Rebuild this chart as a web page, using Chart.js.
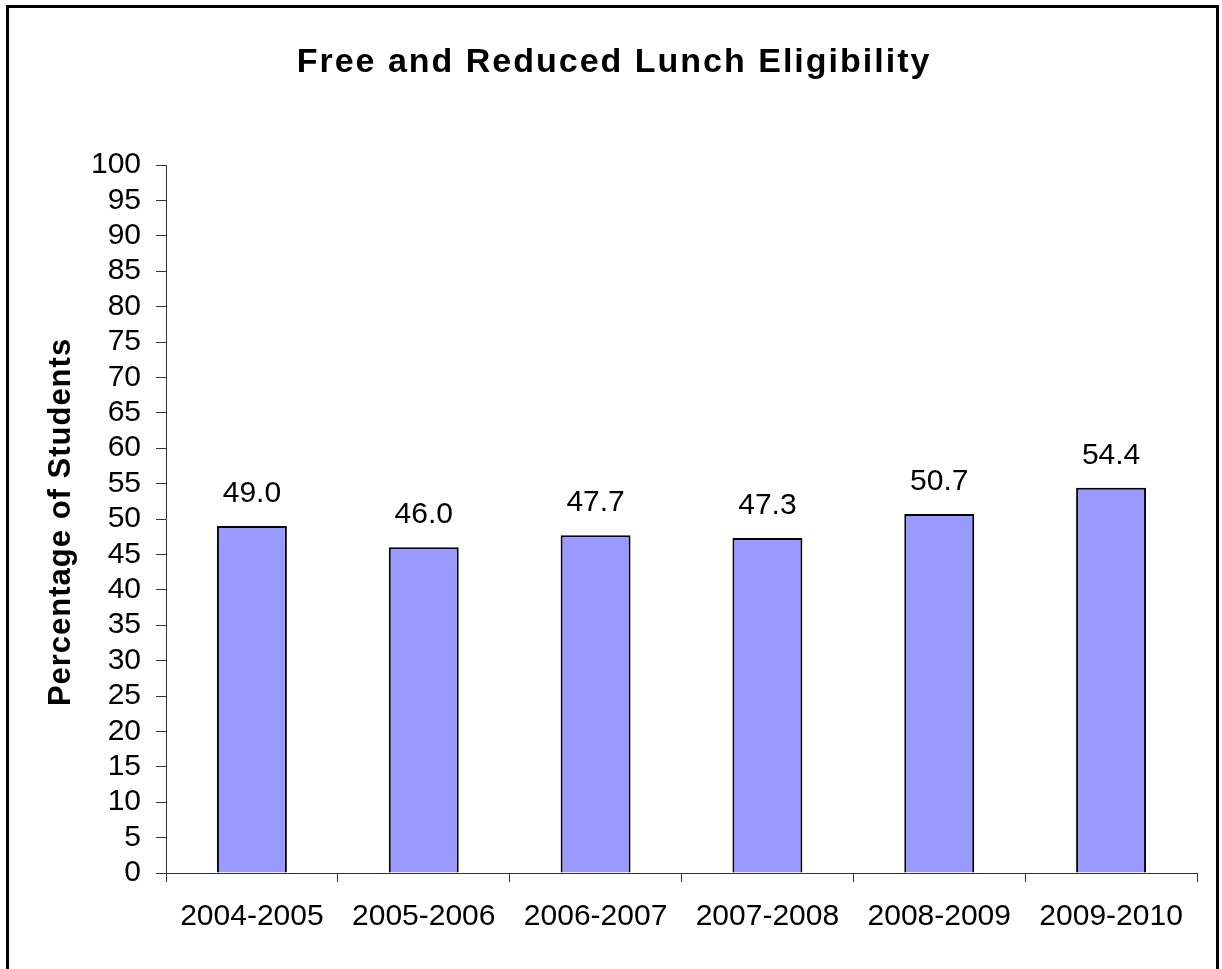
<!DOCTYPE html>
<html lang="en">
<head>
<meta charset="UTF-8">
<title>Free and Reduced Lunch Eligibility</title>
<script src="https://cdn.jsdelivr.net/npm/chart.js"></script>
<style>
  body, html { margin:0; padding:0; background:#fff; overflow:hidden; }
  #wrap { position:relative; width:1222px; height:969px; }
  #frame {
    position:absolute; left:6px; top:5px; width:1213px; height:1000px;
    border:3px solid #000; border-bottom:none; box-sizing:border-box;
    pointer-events:none;
  }
  canvas { position:absolute; left:0; top:0; }
</style>
</head>
<body>
<div id="wrap">
  <canvas id="lunch-chart" width="1222" height="969"></canvas>
  <div id="frame"></div>
</div>
<script>
  // data
  const chartTitle = 'Free and Reduced Lunch Eligibility';
  const yTitle = 'Percentage of Students';
  const years = ['2004-2005', '2005-2006', '2006-2007', '2007-2008', '2008-2009', '2009-2010'];
  const percents = [49.0, 46.0, 47.7, 47.3, 50.7, 54.4];
  const yMin = 0, yMax = 100, yStep = 5;

  const FONT = '"Liberation Sans", Arial, sans-serif';
  const AXIS_COLOR = '#333';

  // titles + value labels
  const textPlugin = {
    id: 'texts',
    afterDatasetsDraw(chart) {
      const ctx = chart.ctx;
      const meta = chart.getDatasetMeta(0);
      ctx.save();
      ctx.fillStyle = '#000';
      ctx.font = '30px ' + FONT;
      ctx.textAlign = 'center';
      ctx.textBaseline = 'alphabetic';
      meta.data.forEach((bar, i) => {
        ctx.fillText(percents[i].toFixed(1), bar.x, bar.y - 24);
      });
      ctx.restore();
    },
    afterDraw(chart) {
      const ctx = chart.ctx;
      ctx.save();
      ctx.fillStyle = '#000';
      ctx.textAlign = 'center';
      ctx.textBaseline = 'alphabetic';
      ctx.font = 'bold 34px ' + FONT;
      ctx.letterSpacing = '2px';
      ctx.fillText(chartTitle, 614, 72);

      ctx.font = 'bold 31px ' + FONT;
      ctx.letterSpacing = '1px';
      ctx.translate(70, 522);
      ctx.rotate(-Math.PI / 2);
      ctx.fillText(yTitle, 0, 0);
      ctx.restore();
    }
  };

  new Chart(document.getElementById('lunch-chart'), {
    type: 'bar',
    data: {
      labels: years,
      datasets: [{
        data: percents,
        backgroundColor: '#9999FF',
        borderColor: '#000',
        borderWidth: 2,
        categoryPercentage: 1,
        barPercentage: 0.407
      }]
    },
    options: {
      responsive: false,
      animation: false,
      devicePixelRatio: 1,
      layout: { padding: { top: 165, right: 25, left: 0, bottom: 0 } },
      plugins: {
        legend: { display: false },
        tooltip: { enabled: false },
        title: { display: false }
      },
      scales: {
        x: {
          grid: { drawOnChartArea: false, drawTicks: true, tickLength: 9, color: AXIS_COLOR, offset: true },
          border: { display: true, color: AXIS_COLOR, width: 1 },
          ticks: { color: '#000', font: { size: 30, family: FONT }, padding: 17, maxRotation: 0 },
          afterFit(scale) { scale.height = 96; }
        },
        y: {
          min: yMin,
          max: yMax,
          grid: { drawOnChartArea: false, drawTicks: true, tickLength: 10, color: AXIS_COLOR },
          border: { display: true, color: AXIS_COLOR, width: 1 },
          ticks: { stepSize: yStep, autoSkip: false, color: '#000', font: { size: 30, family: FONT }, padding: 15 },
          afterFit(scale) { scale.width = 166; }
        }
      }
    },
    plugins: [textPlugin]
  });
</script>
</body>
</html>
